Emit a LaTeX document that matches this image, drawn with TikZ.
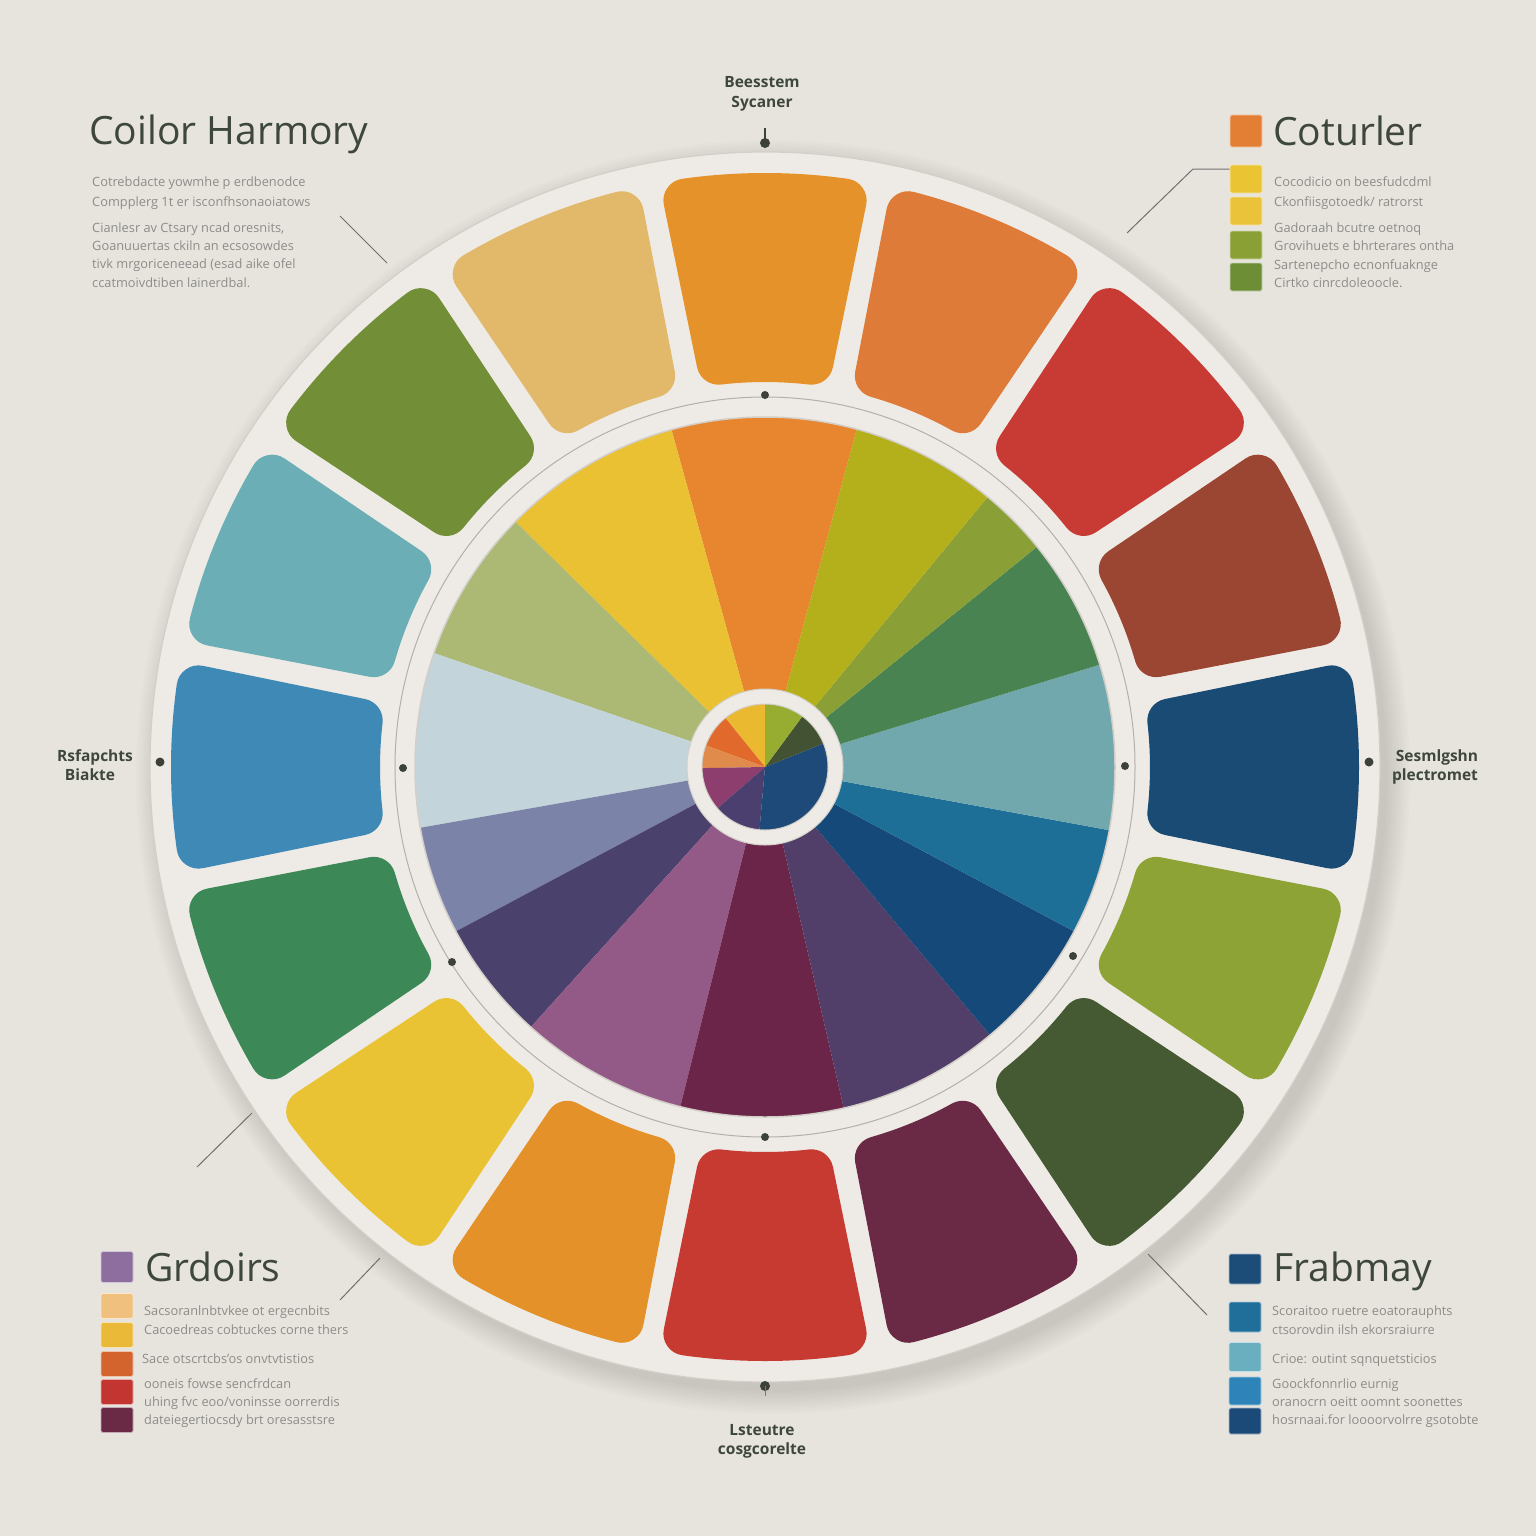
\documentclass[tikz,border=0pt]{standalone}
\usepackage{fontspec}
\setmainfont{Open Sans}
\definecolor{bg}{HTML}{E7E4DE}
\definecolor{plate}{HTML}{EEEBE6}
\definecolor{plateedge}{HTML}{D3CFC8}
\definecolor{ink}{HTML}{3E473C}
\definecolor{bodyc}{HTML}{8D8C89}
\definecolor{leadc}{HTML}{707070}
% tiles
\definecolor{Ta}{HTML}{E5922B}
\definecolor{Tb}{HTML}{DE7B39}
\definecolor{Tc}{HTML}{C73B34}
\definecolor{Td}{HTML}{9B4632}
\definecolor{Te}{HTML}{1A4B75}
\definecolor{Tf}{HTML}{8EA336}
\definecolor{Tg}{HTML}{455933}
\definecolor{Th}{HTML}{6A2A46}
\definecolor{Ti}{HTML}{C63A32}
\definecolor{Tj}{HTML}{E4912A}
\definecolor{Tk}{HTML}{E9C334}
\definecolor{Tl}{HTML}{3C8957}
\definecolor{Tm}{HTML}{3F89B6}
\definecolor{Tn}{HTML}{6CAEB5}
\definecolor{To}{HTML}{728E36}
\definecolor{Tp}{HTML}{E2B96B}
% wheel
\definecolor{Wa}{HTML}{E8862F}
\definecolor{Wb}{HTML}{E9C133}
\definecolor{Wc}{HTML}{ABB974}
\definecolor{Wd}{HTML}{C3D4DA}
\definecolor{We}{HTML}{7B83A9}
\definecolor{Wf}{HTML}{4A416D}
\definecolor{Wg}{HTML}{945A87}
\definecolor{Wh}{HTML}{6A2548}
\definecolor{Wi}{HTML}{513F69}
\definecolor{Wj}{HTML}{15497A}
\definecolor{Wk}{HTML}{1D6F98}
\definecolor{Wl}{HTML}{70A8AE}
\definecolor{Wm}{HTML}{4A8352}
\definecolor{Wn}{HTML}{8AA036}
\definecolor{Wo}{HTML}{B4B01C}
% hub
\definecolor{Ha}{HTML}{EBB92F}
\definecolor{Hb}{HTML}{E0692B}
\definecolor{Hc}{HTML}{E08A4C}
\definecolor{Hd}{HTML}{8E3E6E}
\definecolor{He}{HTML}{4A3F6E}
\definecolor{Hf}{HTML}{1E4A7A}
\definecolor{Hg}{HTML}{425233}
\definecolor{Hh}{HTML}{97AD32}
% legend squares
\definecolor{Sa}{HTML}{E27F35}
\definecolor{Sb}{HTML}{EAC433}
\definecolor{Sc}{HTML}{EBC33A}
\definecolor{Sd}{HTML}{8AA034}
\definecolor{Se}{HTML}{6E8E36}
\definecolor{Sf}{HTML}{8D6E9E}
\definecolor{Sg}{HTML}{EFC07E}
\definecolor{Sh}{HTML}{EBB938}
\definecolor{Si}{HTML}{D4642E}
\definecolor{Sj}{HTML}{C23530}
\definecolor{Sk}{HTML}{6A2A45}
\definecolor{Sl}{HTML}{1C4C78}
\definecolor{Sm}{HTML}{206E9A}
\definecolor{Sn}{HTML}{6AAFC0}
\definecolor{So}{HTML}{2E84B8}
\definecolor{Sp}{HTML}{1C4A78}
\definecolor{dotc}{HTML}{3C4237}
\tikzset{
  title/.style={anchor=base west, inner sep=0pt, text=ink, font=\fontsize{39}{42}\selectfont},
  body/.style={anchor=base west, inner sep=0pt, text=bodyc, font=\fontsize{12.8}{14}\selectfont},
  lab/.style={anchor=base, inner sep=0pt, text=ink, font=\bfseries\fontsize{15.5}{18}\selectfont},
  sq/.style={draw=white!60!#1, line width=0.8pt, fill=#1, minimum width=32pt, inner sep=0pt, rounded corners=1.5pt},
  leader/.style={draw=leadc, line width=1pt},
}
\begin{document}
\begin{tikzpicture}[x=1pt,y=-1pt]
\useasboundingbox (0,0) rectangle (1536,1536);
\fill[bg] (0,0) rectangle (1536,1536);

\begin{scope}[shift={(765,767)}, yscale=-1]
  % shadow
  \foreach \i in {1,...,10} \fill[black, opacity=0.013] (8,-10) circle[radius=612+\i*2.5];
  \fill[plate] (0,0) circle[radius=615];
  \draw[plateedge, line width=1.2pt] (0,0) circle[radius=615];
  % outer tiles (rounded via thick same-colour stroke)
  \foreach \a/\c in {90/Ta,67.5/Tb,45/Tc,22.5/Td,0/Te,-22.5/Tf,-45/Tg,-67.5/Th,-90/Ti,-112.5/Tj,-135/Tk,-157.5/Tl,180/Tm,157.5/Tn,135/To,112.5/Tp}
    \filldraw[fill=\c, draw=\c, line width=44pt, line join=round]
      (\a-8.0:572) arc[start angle=\a-8.0, end angle=\a+8.0, radius=572]
      -- (\a+6.55:407) arc[start angle=\a+6.55, end angle=\a-6.55, radius=407] -- cycle;
  % ring line
  \draw[plateedge!85!black, line width=1pt] (0,0) circle[radius=370];
  % inner wheel
  \foreach \s/\e/\c in {74.8/105.5/Wa,105.5/135.5/Wb,135.5/161/Wc,161/190/Wd,190/208/We,208/228/Wf,228/256/Wg,256/283/Wh,283/310/Wi,310/332/Wj,332/349.6/Wk,349.6/377/Wl,377/399/Wm,399/410.5/Wn,410.5/434.8/Wo}
    \fill[\c] (0,0) -- (\s:350) arc[start angle=\s, end angle=\e, radius=350] -- cycle;
  \draw[plateedge, line width=1.5pt] (0,0) circle[radius=350];
  % hub
  \fill[plate] (0,0) circle[radius=78];
  \draw[plateedge, line width=1pt] (0,0) circle[radius=78];
  \foreach \s/\e/\c in {90/129/Ha,129/160/Hb,160/181/Hc,181/221/Hd,221/265/He,265/382/Hf,382/413.6/Hg,413.6/450/Hh}
    \fill[\c] (0,0) -- (\s:63) arc[start angle=\s, end angle=\e, radius=63] -- cycle;
  \draw[plateedge, line width=1pt] (0,0) circle[radius=63];
\end{scope}

% dots on ring and plate
\foreach \x/\y in {765/395,765/1137,403/768,1125/766,452/962,1073/956}
  \fill[dotc] (\x,\y) circle[radius=4];
\foreach \x/\y in {160/762,1369/762}
  \fill[dotc] (\x,\y) circle[radius=4.5];
\draw[dotc, line width=1.5pt] (765,128) -- (765,142);
\fill[dotc] (765,143) circle[radius=5];
\fill[dotc] (765,1386) circle[radius=5];
\draw[dotc!70, line width=1pt] (765,1386) -- (765,1396);

% top-left text block
\node[title] (tTitle) at (89,145) {Coilor Harmory};
\node[body] (tl1) at (92,186) {Cotrebdacte yowmhe p erdbenodce};
\node[body] (tl2) at (92,206) {Compplerg 1t er isconfhsonaoiatows};
\node[body] (tl3) at (92,232) {Cianlesr av Ctsary ncad oresnits,};
\node[body] (tl4) at (92,250) {Goanuuertas ckiln an ecsosowdes};
\node[body] (tl5) at (92,268) {tivk mrgoriceneead (esad aike ofel};
\node[body] (tl6) at (92,287) {ccatmoivdtiben lainerdbal.};

% top-right legend
\node[sq=Sa, minimum height=32pt] (trT) at (1246,131) {};
\node[title] (trTitle) at (1273,146) {Coturler};
\node[sq=Sb, minimum height=28pt] (tr1) at (1246,179) {};
\node[sq=Sc, minimum height=28pt] (tr2) at (1246,211) {};
\node[sq=Sd, minimum height=28pt] (tr3) at (1246,245) {};
\node[sq=Se, minimum height=28pt] (tr4) at (1246,277) {};
\node[body] (trl1) at (1274,186) {Cocodicio on beesfudcdml};
\node[body] (trl2) at (1274,206) {Ckonfiisgotoedk/ ratrorst};
\node[body] (trl3) at (1274,232) {Gadoraah bcutre oetnoq};
\node[body] (trl4) at (1274,250) {Grovihuets e bhrterares ontha};
\node[body] (trl5) at (1274,269) {Sartenepcho ecnonfuaknge};
\node[body] (trl6) at (1274,287) {Cirtko cinrcdoleoocle.};

% bottom-left legend
\node[sq=Sf, minimum height=31pt] (blT) at (117,1267) {};
\node[title] (blTitle) at (145,1281) {Grdoirs};
\node[sq=Sg, minimum height=25pt] (bl1) at (117,1306) {};
\node[sq=Sh, minimum height=25pt] (bl2) at (117,1335) {};
\node[sq=Si, minimum height=25pt] (bl3) at (117,1364) {};
\node[sq=Sj, minimum height=25pt] (bl4) at (117,1392) {};
\node[sq=Sk, minimum height=25pt] (bl5) at (117,1420) {};
\node[body] (bll1) at (144,1315) {Sacsoranlnbtvkee ot ergecnbits};
\node[body] (bll2) at (144,1334) {Cacoedreas cobtuckes corne thers};
\node[body] (bll3) at (142,1363) {Sace otscrtcbs'os onvtvtistios};
\node[body] (bll4) at (144,1388) {ooneis fowse sencfrdcan};
\node[body] (bll5) at (144,1406) {uhing fvc eoo/voninsse oorrerdis};
\node[body] (bll6) at (144,1424) {dateiegertiocsdy brt oresasstsre};

% bottom-right legend
\node[sq=Sl, minimum height=30pt] (brT) at (1245,1269) {};
\node[title] (brTitle) at (1273,1281) {Frabmay};
\node[sq=Sm, minimum height=30pt] (br1) at (1245,1317) {};
\node[sq=Sn, minimum height=29pt] (br2) at (1245,1357) {};
\node[sq=So, minimum height=28pt] (br3) at (1245,1391) {};
\node[sq=Sp, minimum height=26pt] (br4) at (1245,1421) {};
\node[body] (brl1) at (1272,1315) {Scoraitoo ruetre eoatorauphts};
\node[body] (brl2) at (1272,1334) {ctsorovdin ilsh ekorsraiurre};
\node[body] (brl3) at (1272,1363) {Crioe: outint sqnquetsticios};
\node[body] (brl4) at (1272,1388) {Goockfonnrlio eurnig};
\node[body] (brl5) at (1272,1406) {oranocrn oeitt oomnt soonettes};
\node[body] (brl6) at (1272,1424) {hosrnaai.for loooorvolrre gsotobte};

% side labels
\node[lab] (topA) at (762,88) {Beesstem};
\node[lab] (topB) at (762,108) {Sycaner};
\node[lab] (botA) at (762,1435) {Lsteutre};
\node[lab] (botB) at (762,1454) {cosgcorelte};
\node[lab] (lefA) at (95,761) {Rsfapchts};
\node[lab] (lefB) at (90,780) {Biakte};
\node[lab] (rigA) at (1437,761) {Sesmlgshn};
\node[lab] (rigB) at (1435,780) {plectromet};

% leaders
\coordinate (ldA1) at (340,216);
\coordinate (ldA2) at (387,263);
\draw[leader] (ldA1) -- (ldA2);
\coordinate (ldB1) at (1127,233);
\coordinate (ldB2) at (1193,169);
\draw[leader] (ldB1) -- (ldB2) -- (tr1.west |- ldB2);
\coordinate (ldC1) at (197,1167);
\coordinate (ldC2) at (252,1113);
\draw[leader] (ldC1) -- (ldC2);
\coordinate (ldD1) at (340,1300);
\coordinate (ldD2) at (380,1258);
\draw[leader] (ldD1) -- (ldD2);
\coordinate (ldE1) at (1148,1254);
\coordinate (ldE2) at (1207,1315);
\draw[leader] (ldE1) -- (ldE2);
\end{tikzpicture}
\end{document}
